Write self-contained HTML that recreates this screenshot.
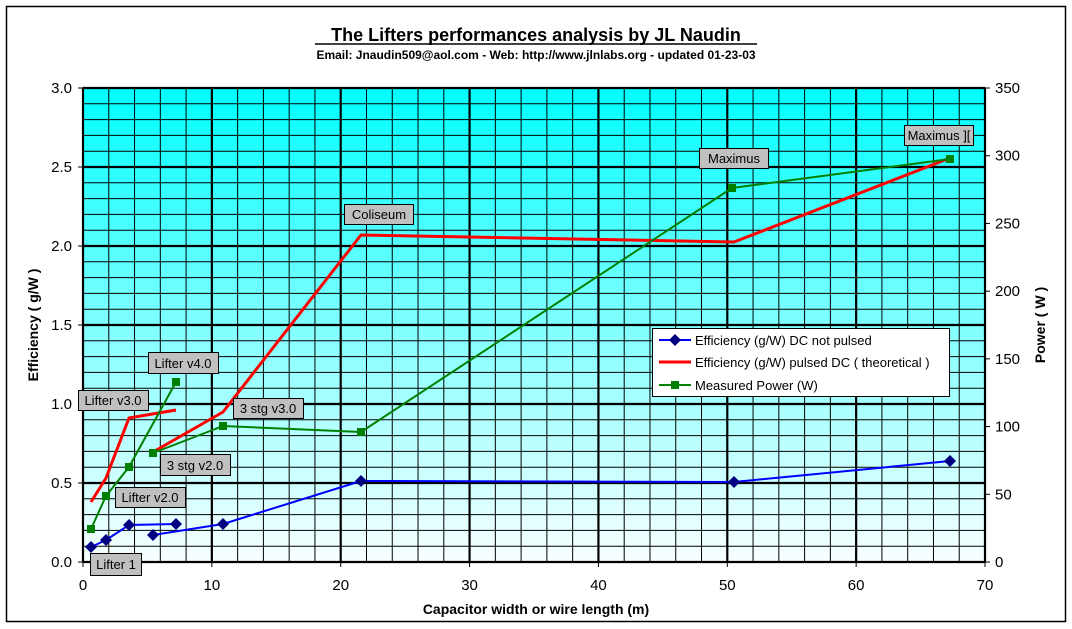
<!DOCTYPE html>
<html><head><meta charset="utf-8"><style>
html,body{margin:0;padding:0;background:#fff;}
svg{display:block;font-family:"Liberation Sans",Arial,sans-serif;}
</style></head><body>
<svg width="1072" height="629" viewBox="0 0 1072 629" xmlns="http://www.w3.org/2000/svg">
<defs>
<linearGradient id="bg" x1="0" y1="0" x2="0" y2="1">
<stop offset="0" stop-color="#00ffff"/>
<stop offset="0.5" stop-color="#80ffff"/>
<stop offset="1" stop-color="#f8ffff"/>
</linearGradient>
</defs>
<rect x="6.5" y="6.5" width="1059" height="615" fill="#fff" stroke="#000" stroke-width="1.5"/>
<text x="536" y="41" text-anchor="middle" font-size="18" font-weight="bold">The Lifters performances analysis by JL Naudin </text>
<line x1="315" y1="44" x2="757" y2="44" stroke="#000" stroke-width="1.5"/>
<text x="536" y="59" text-anchor="middle" font-size="12" font-weight="bold">Email: Jnaudin509@aol.com - Web: http://www.jlnlabs.org - updated 01-23-03</text>
<rect x="83" y="88" width="902" height="474" fill="url(#bg)"/>
<g id="grid" stroke="#000"></g>
<rect x="83" y="88" width="902" height="474" fill="none" stroke="#000" stroke-width="1.5"/>
<g id="ticks" font-size="15" fill="#000"></g>
<text x="536" y="614" text-anchor="middle" font-size="14" font-weight="bold">Capacitor width or wire length (m)</text>
<text transform="translate(38,325) rotate(-90)" text-anchor="middle" font-size="14" font-weight="bold">Efficiency ( g/W )</text>
<text transform="translate(1045,325) rotate(-90)" text-anchor="middle" font-size="14" font-weight="bold">Power ( W )</text>
<g fill="none" stroke-linejoin="round">
<polyline points="91,502 106,478 129,418 176,410" stroke="#ff0000" stroke-width="3"/>
<polyline points="153,452 223,412 361,235 734,242 950,158" stroke="#ff0000" stroke-width="3"/>
<polyline points="91,529 106,496 129,467 176,382" stroke="#008000" stroke-width="2"/>
<polyline points="153,453 223,426 292,429 361,432 732,188 950,159" stroke="#008000" stroke-width="2"/>
<polyline points="91,547 106,540 129,525 176,524" stroke="#0000ff" stroke-width="2"/>
<polyline points="153,535 223,524 361,481 734,482 950,461" stroke="#0000ff" stroke-width="2"/>
</g>
<g fill="#008000">
<rect x="87" y="525" width="8" height="8"/><rect x="102" y="492" width="8" height="8"/><rect x="125" y="463" width="8" height="8"/><rect x="172" y="378" width="8" height="8"/>
<rect x="149" y="449" width="8" height="8"/><rect x="219" y="422" width="8" height="8"/><rect x="357" y="428" width="8" height="8"/><rect x="728" y="184" width="8" height="8"/><rect x="946" y="155" width="8" height="8"/>
</g>
<g fill="#000080">
<path d="M91,541l6,6l-6,6l-6,-6z"/><path d="M106,534l6,6l-6,6l-6,-6z"/><path d="M129,519l6,6l-6,6l-6,-6z"/><path d="M176,518l6,6l-6,6l-6,-6z"/>
<path d="M153,529l6,6l-6,6l-6,-6z"/><path d="M223,518l6,6l-6,6l-6,-6z"/><path d="M361,475l6,6l-6,6l-6,-6z"/><path d="M734,476l6,6l-6,6l-6,-6z"/><path d="M950,455l6,6l-6,6l-6,-6z"/>
</g>
<g font-size="13" text-anchor="middle">
<rect x="90.5" y="553.5" width="51" height="22" fill="#c0c0c0" stroke="#000"/><text x="116" y="569">Lifter 1</text>
<rect x="115.5" y="487.5" width="70" height="20" fill="#c0c0c0" stroke="#000"/><text x="150" y="502">Lifter v2.0</text>
<rect x="78.5" y="390.5" width="70" height="20" fill="#c0c0c0" stroke="#000"/><text x="113" y="405">Lifter v3.0</text>
<rect x="148.5" y="352.5" width="70" height="21" fill="#c0c0c0" stroke="#000"/><text x="183" y="368">Lifter v4.0</text>
<rect x="233.5" y="398.5" width="70" height="20" fill="#c0c0c0" stroke="#000"/><text x="268" y="413">3 stg v3.0</text>
<rect x="160.5" y="454.5" width="70" height="21" fill="#c0c0c0" stroke="#000"/><text x="195" y="470">3 stg v2.0</text>
<rect x="344.5" y="204.5" width="69" height="20" fill="#c0c0c0" stroke="#000"/><text x="379" y="219">Coliseum</text>
<rect x="699.5" y="148.5" width="69" height="20" fill="#c0c0c0" stroke="#000"/><text x="734" y="163">Maximus</text>
<rect x="904.5" y="125.5" width="69" height="20" fill="#c0c0c0" stroke="#000"/><text x="939" y="140">Maximus ][</text>
</g>
<rect x="652.5" y="328.5" width="297" height="68" fill="#fff" stroke="#000"/>
<g font-size="13">
<line x1="659" y1="340" x2="691" y2="340" stroke="#0000ff" stroke-width="2"/><path d="M675,334l6,6l-6,6l-6,-6z" fill="#000080"/>
<text x="695" y="345">Efficiency (g/W) DC not pulsed</text>
<line x1="659" y1="362" x2="691" y2="362" stroke="#ff0000" stroke-width="3"/>
<text x="695" y="367">Efficiency (g/W) pulsed DC ( theoretical )</text>
<line x1="659" y1="385" x2="691" y2="385" stroke="#008000" stroke-width="2"/><rect x="671" y="381" width="8" height="8" fill="#008000"/>
<text x="695" y="390">Measured Power (W)</text>
</g>
<script>
var ns="http://www.w3.org/2000/svg",g=document.getElementById("grid"),t=document.getElementById("ticks");
function el(p,n,a,txt){var e=document.createElementNS(ns,n);for(var k in a)e.setAttribute(k,a[k]);if(txt!=null)e.textContent=txt;p.appendChild(e);}
var X0=83,XW=902,Y0=562,YH=474;
for(var i=0;i<=35;i++){var x=X0+XW*i/35;var maj=i%5==0;el(g,"line",{x1:x,y1:88,x2:x,y2:562,"stroke-width":maj?2.2:1});}
for(var j=0;j<=30;j++){var y=Y0-YH*j/30;var maj=j%5==0;el(g,"line",{x1:83,y1:y,x2:985,y2:y,"stroke-width":maj?2.2:1});}
for(var k=0;k<=7;k++){var x=X0+XW*k/7;el(t,"line",{x1:x,y1:562,x2:x,y2:567,stroke:"#000"});el(t,"text",{x:x,y:590,"text-anchor":"middle"},String(k*10));}
for(var k=0;k<=6;k++){var y=Y0-YH*k/6;el(t,"line",{x1:78,y1:y,x2:83,y2:y,stroke:"#000"});el(t,"text",{x:72,y:y+5,"text-anchor":"end"},(k*0.5).toFixed(1));}
for(var k=0;k<=7;k++){var y=Y0-YH*k/7;el(t,"line",{x1:985,y1:y,x2:990,y2:y,stroke:"#000"});el(t,"text",{x:995,y:y+5,"text-anchor":"start"},String(k*50));}
</script>
</svg>
</body></html>
